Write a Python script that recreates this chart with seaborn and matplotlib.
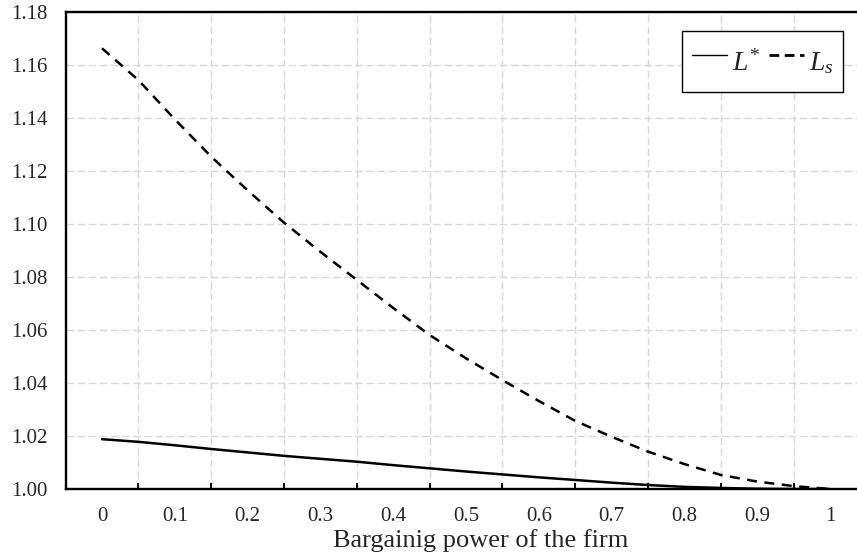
import matplotlib
matplotlib.use("Agg")
import matplotlib.pyplot as plt
import numpy as np
import pandas as pd
import seaborn as sns

# bargaining power of the firm (sampled every 0.05)
power = [0.00, 0.05, 0.10, 0.15, 0.20, 0.25, 0.30, 0.35, 0.40, 0.45, 0.50,
         0.55, 0.60, 0.65, 0.70, 0.75, 0.80, 0.85, 0.90, 0.95, 1.00]
l_star = [1.0188, 1.0178, 1.0165, 1.0151, 1.0138, 1.0125, 1.0114, 1.0103,
          1.0090, 1.0078, 1.0066, 1.0055, 1.0044, 1.0034, 1.0024, 1.0015,
          1.0008, 1.0004, 1.0001, 1.0000, 1.0000]
l_s = [1.1663, 1.1543, 1.1395, 1.1254, 1.1127, 1.1005, 1.0895, 1.0789,
       1.0683, 1.0581, 1.0493, 1.0411, 1.0332, 1.0257, 1.0197, 1.0141,
       1.0094, 1.0053, 1.0028, 1.0011, 1.0000]
x_labels = ["0", "0.1", "0.2", "0.3", "0.4", "0.5", "0.6", "0.7", "0.8", "0.9", "1"]
y_ticks = [1.00, 1.02, 1.04, 1.06, 1.08, 1.10, 1.12, 1.14, 1.16, 1.18]

sns.set_style("white")
plt.rcParams["font.family"] = ["Liberation Serif", "DejaVu Serif"]
plt.rcParams["mathtext.fontset"] = "custom"
plt.rcParams["mathtext.rm"] = "Liberation Serif"
plt.rcParams["mathtext.it"] = "Liberation Serif:italic"

df = pd.DataFrame({"power": power, "lstar": l_star, "ls": l_s})

fig = plt.figure(figsize=(8.57, 5.56), dpi=100)
ax = fig.add_axes([65.6 / 857, 67 / 556, (857 - 65.6) / 857, 477 / 556])

sns.lineplot(data=df, x="power", y="lstar", ax=ax, color="black", lw=1.8,
             label=r"$L^{*}$")
sns.lineplot(data=df, x="power", y="ls", ax=ax, color="black", lw=1.8,
             dashes=False, label=r"$L_{s}$")
ax.lines[1].set_dashes((4, 3))

ax.set_xlim(-0.05, 1.037)
ax.set_ylim(1.0, 1.18)

ax.set_xticks(np.arange(0, 1.01, 0.1))
ax.set_xticklabels(x_labels)
ax.set_xticks(np.arange(0.05, 1.0, 0.1), minor=True)
ax.set_yticks(y_ticks)
ax.set_yticklabels([f"{v:.2f}" for v in y_ticks])

ax.tick_params(axis="x", which="major", length=0, pad=13, labelsize=15)
ax.tick_params(axis="x", which="minor", length=4.5, width=1.4, direction="in",
               color="black", bottom=True)
ax.tick_params(axis="y", length=0, pad=13, labelsize=15)

ax.set_axisbelow(True)
grid_kw = dict(color="#d9d9d9", linestyle=(0, (5.5, 2.5)), linewidth=1.0)
ax.grid(False)
ax.xaxis.grid(True, which="minor", **grid_kw)
ax.yaxis.grid(True, which="major", **grid_kw)

for side in ["left", "bottom", "top"]:
    ax.spines[side].set_visible(True)
    ax.spines[side].set_color("black")
    ax.spines[side].set_linewidth(1.7)
ax.spines["right"].set_visible(False)

ax.set_ylabel("")
ax.set_xlabel("Bargainig power of the firm", fontsize=19, va="baseline")
ax.xaxis.set_label_coords(0.524, -0.1216)

leg = ax.legend(loc="upper right", bbox_to_anchor=(843.3 / 857, (556 - 30.7) / 556),
                bbox_transform=fig.transFigure, borderaxespad=0, ncol=2,
                fontsize=20, frameon=True, fancybox=False, framealpha=1,
                edgecolor="black", handlelength=1.26, handleheight=1.95,
                handletextpad=0.18, columnspacing=0.3, borderpad=0.35)
leg.get_frame().set_linewidth(1.0)
handles = leg.get_lines()
handles[0].set_linewidth(1.0)
handles[1].set_linewidth(2.0)
handles[1].set_dashes((3.5, 2))

fig.savefig("out.png", dpi=100)
